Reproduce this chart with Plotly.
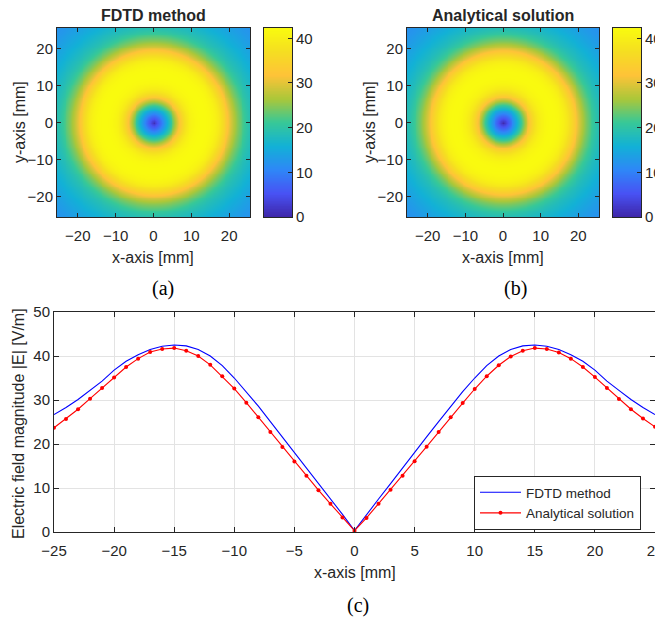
import numpy as np
import plotly.graph_objects as go

PAGE_W, PAGE_H = 663, 618
BODY = 8                      # default page margin of the html body
W, H = PAGE_W - BODY, PAGE_H - BODY

# ---- line profile (c) ----
x_fdtd = list(range(-25, 26))
e_fdtd_half = [26.7, 28.3, 30.1, 32.2, 34.3, 36.8, 38.8, 40.3, 41.5, 42.2, 42.5, 42.3, 41.5, 40.0,
               37.8, 35.0, 31.9, 28.6, 25.1, 21.6, 18.1, 14.6, 11.0, 7.5, 4.0]
e_fdtd = e_fdtd_half + [0.3] + e_fdtd_half[::-1]

x_anal = list(range(-25, 26))
e_anal_left = [23.7, 25.7, 27.9, 30.3, 32.7, 35.1, 37.5, 39.4, 40.9, 41.6, 41.8, 41.2, 40.0, 38.0,
               35.4, 32.6, 29.4, 26.1, 22.7, 19.3, 16.0, 12.8, 9.5, 6.4, 3.3]
e_anal_right = [3.2, 6.4, 9.6, 12.8, 16.1, 19.4, 22.7, 26.1, 29.3, 32.5, 35.4, 37.9, 39.9, 41.2,
                41.8, 41.6, 40.8, 39.4, 37.5, 35.2, 32.7, 30.2, 27.9, 25.8, 23.9]
e_anal = e_anal_left + [0.3] + e_anal_right

map_r = [0, 1, 2, 3, 4, 5, 6, 7, 8, 9, 10, 11, 12, 13, 14, 15, 16, 17, 18, 19, 20,
         21, 22, 23, 24, 25, 26, 28, 30, 32, 34, 36]
map_fdtd = [1.0, 5.0, 9.0, 13.5, 18.0, 23.0, 28.0, 33.0, 37.0, 39.5, 41.0, 41.8, 42.2, 42.3,
            42.2, 41.8, 41.0, 39.5, 37.0, 34.0, 30.5, 27.5, 25.0, 23.0, 21.2, 19.6, 18.5,
            16.8, 15.3, 14.0, 12.9, 12.0]
map_anal = [0.5, 4.6, 8.6, 13.0, 17.4, 22.4, 27.4, 32.4, 36.4, 39.0, 40.6, 41.5, 42.0, 42.2,
            42.0, 41.5, 40.5, 38.8, 36.2, 33.2, 29.8, 26.9, 24.4, 22.4, 20.7, 19.2, 18.1,
            16.5, 15.0, 13.7, 12.6, 11.8]
map_ticks = [-20, -10, 0, 10, 20]
cbar_ticks = [0, 10, 20, 30, 40]
cmax = 42.3

parula = [
    [0.2422, 0.1504, 0.6603], [0.2810, 0.3228, 0.9579], [0.1786, 0.5289, 0.9682],
    [0.0689, 0.6948, 0.8394], [0.2161, 0.7843, 0.5923], [0.6720, 0.7793, 0.2227],
    [0.9970, 0.7659, 0.2199], [0.9626, 0.8705, 0.1309], [0.9763, 0.9831, 0.0538]]
cscale = [[i / (len(parula) - 1), 'rgb(%d,%d,%d)' % tuple(int(round(c * 255)) for c in p)]
          for i, p in enumerate(parula)]

g = np.arange(-26, 26.01, 0.5)
GX, GY = np.meshgrid(g, g)
R = np.sqrt(GX ** 2 + GY ** 2)
Z_fdtd = np.interp(R, map_r, map_fdtd)
Z_anal = np.interp(R, map_r, map_anal)

# colour key column (legend of the colour scale)
key_levels = np.linspace(0, cmax, 256)

ink = '#262626'
FONT = 'Liberation Sans, Arial, sans-serif'
SERIF = 'Liberation Serif, Times New Roman, serif'


def px_x(p):
    return (p - BODY) / W


def px_y(p):
    return 1 - (p - BODY) / H


fig = go.Figure()
panels = [(Z_fdtd, 'x', 'y', 'x4', 'y4'), (Z_anal, 'x2', 'y2', 'x5', 'y5')]
for Z, xa, ya, cxa, cya in panels:
    fig.add_trace(go.Heatmap(x=g, y=g, z=Z, zsmooth='best', colorscale=cscale, zmin=0, zmax=cmax,
                             xaxis=xa, yaxis=ya, showscale=False, hoverinfo='skip'))
    fig.add_trace(go.Heatmap(x=[0], y=key_levels, z=[[v] for v in key_levels], colorscale=cscale,
                             zmin=0, zmax=cmax, xaxis=cxa, yaxis=cya, showscale=False,
                             hoverinfo='skip'))

fig.add_trace(go.Scatter(x=x_fdtd, y=e_fdtd, mode='lines', name='FDTD method',
                         line=dict(color='#0000ff', width=1.1), xaxis='x3', yaxis='y3'))
fig.add_trace(go.Scatter(x=x_anal, y=e_anal, mode='lines+markers', name='Analytical solution',
                         line=dict(color='#ff0000', width=1.1), marker=dict(color='#ff0000', size=4),
                         xaxis='x3', yaxis='y3'))

tickfont = dict(family=FONT, size=15, color=ink)
map_axis = dict(range=[-25.5, 25.5], tickvals=map_ticks, ticks='inside', ticklen=4, tickcolor=ink,
                showline=True, linecolor=ink, linewidth=1, mirror='ticks', showgrid=False,
                zeroline=False, tickfont=tickfont)
key_x = dict(range=[-0.5, 0.5], showticklabels=False, ticks='', showline=True, linecolor=ink,
             mirror=True, showgrid=False, zeroline=False)
key_y = dict(range=[0, cmax], tickvals=cbar_ticks, ticks='inside', ticklen=4, tickcolor=ink,
             side='right', showline=True, linecolor=ink, mirror=True, showgrid=False,
             zeroline=False, tickfont=tickfont, ticklabeloverflow='allow')

top_dom = [px_y(217), px_y(28)]
fig.update_layout(
    width=W, height=H, margin=dict(l=0, r=0, t=0, b=0, autoexpand=False),
    paper_bgcolor='white', plot_bgcolor='white',
    font=dict(family=FONT, color=ink),
    xaxis=dict(map_axis, domain=[px_x(57), px_x(250)], anchor='y', ticklabelstandoff=5),
    yaxis=dict(map_axis, domain=top_dom, anchor='x'),
    xaxis2=dict(map_axis, domain=[px_x(407), px_x(599)], anchor='y2', ticklabelstandoff=5),
    yaxis2=dict(map_axis, domain=top_dom, anchor='x2'),
    xaxis4=dict(key_x, domain=[px_x(264), px_x(292)], anchor='y4'),
    yaxis4=dict(key_y, domain=top_dom, anchor='x4'),
    xaxis5=dict(key_x, domain=[px_x(613), px_x(641)], anchor='y5'),
    yaxis5=dict(key_y, domain=top_dom, anchor='x5'),
    xaxis3=dict(domain=[px_x(54), px_x(655)], anchor='y3', range=[-25, 25], dtick=5,
                ticks='inside', ticklen=5, tickcolor=ink, showline=True, linecolor=ink,
                mirror='ticks', showgrid=True, gridcolor='#e3e3e3', zeroline=False,
                tickfont=tickfont, ticklabelstandoff=5, ticklabeloverflow='allow'),
    yaxis3=dict(domain=[px_y(532), px_y(312)], anchor='x3', range=[0, 50], dtick=10,
                ticks='inside', ticklen=5, tickcolor=ink, showline=True, linecolor=ink,
                mirror='ticks', showgrid=True, gridcolor='#e3e3e3', zeroline=False,
                tickfont=tickfont),
    legend=dict(x=px_x(474), y=px_y(476), xanchor='left', yanchor='top',
                bgcolor='white', bordercolor=ink, borderwidth=1, itemwidth=41,
                font=dict(family=FONT, size=13.5, color=ink), tracegroupgap=0),
    showlegend=True,
)

ann = [('<b>FDTD method</b>', 153, 16, FONT, 16, 0),
       ('<b>Analytical solution</b>', 503, 16, FONT, 16, 0),
       ('x-axis [mm]', 153, 257, FONT, 16, 0),
       ('x-axis [mm]', 503, 257, FONT, 16, 0),
       ('y-axis [mm]', 19, 122, FONT, 16, -90),
       ('y-axis [mm]', 369, 122, FONT, 16, -90),
       ('x-axis [mm]', 355, 572, FONT, 16, 0),
       ('Electric field magnitude |E| [V/m]', 18, 424, FONT, 16, -90),
       ('(a)', 163, 288, SERIF, 20, 0),
       ('(b)', 515, 288, SERIF, 20, 0),
       ('(c)', 358, 605, SERIF, 20, 0)]
for text, ax, ay, fam, sz, rot in ann:
    fig.add_annotation(text=text, x=px_x(ax), y=px_y(ay), xref='paper', yref='paper',
                       showarrow=False, xanchor='center', yanchor='middle', textangle=rot,
                       font=dict(family=fam, size=sz, color='black' if text.startswith('(') else ink))

fig.write_html('out.html')
